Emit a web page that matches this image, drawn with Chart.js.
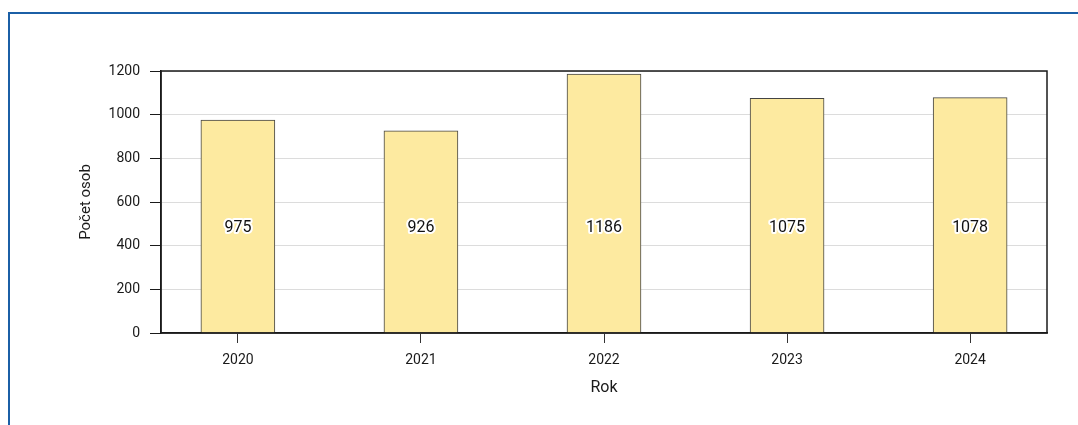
<!DOCTYPE html>
<html>
  <head>
    <meta charset="UTF-8">
    <title>Počet osob</title>
    <script src="https://cdn.jsdelivr.net/npm/chart.js"></script>
    <style>
      html, body { margin: 0; padding: 0; background: #fff; overflow: hidden; }
      .frame {
        position: absolute; left: 8px; top: 12px; width: 1200px; height: 500px;
        border-left: 2px solid #1b5fa6; border-top: 2px solid #1b5fa6;
      }
      .wrap { position: absolute; left: 0; top: 0; width: 1078px; height: 425px; }
    </style>
  </head>
  <body>
    <div class="frame"></div>
    <div class="wrap">
      <canvas id="barChart" width="1078" height="425"></canvas>
    </div>

    <script>
      // data
      const years = [2020, 2021, 2022, 2023, 2024];
      const persons = [975, 926, 1186, 1075, 1078];
      const yTicks = [0, 200, 400, 600, 800, 1000, 1200];

      const fontFamily = "Roboto, 'DejaVu Sans', sans-serif";
      const textColor = '#1a1a1a';

      // frame around the plot area + value labels inside the bars
      const plotExtras = {
        id: 'plotExtras',
        afterDatasetsDraw(chart) {
          const { ctx, chartArea } = chart;
          const yScale = chart.scales.y;
          ctx.save();
          ctx.strokeStyle = '#1a1a1a';
          ctx.lineWidth = 1.5;
          ctx.strokeRect(chartArea.left, chartArea.top, chartArea.right - chartArea.left, chartArea.bottom - chartArea.top);

          ctx.font = '16px ' + fontFamily;
          ctx.textAlign = 'center';
          ctx.textBaseline = 'middle';
          ctx.lineJoin = 'round';
          // labels sit at the same height in every bar
          const labelY = yScale.getPixelForValue(480);
          chart.getDatasetMeta(0).data.forEach((bar, i) => {
            const txt = String(persons[i]);
            ctx.strokeStyle = '#ffffff';
            ctx.lineWidth = 4;
            ctx.strokeText(txt, bar.x, labelY);
            ctx.fillStyle = '#111111';
            ctx.fillText(txt, bar.x, labelY);
          });
          ctx.restore();
        }
      };

      const ctx = document.getElementById('barChart').getContext('2d');

      new Chart(ctx, {
        type: 'bar',
        data: {
          datasets: [
            {
              data: years.map((yr, i) => ({ x: yr, y: persons[i] })),
              backgroundColor: '#fdeaa0',
              borderColor: '#444444',
              borderWidth: 1,
              barThickness: 74
            }
          ]
        },
        options: {
          responsive: false,
          animation: false,
          layout: { padding: { top: 71, right: 31, left: 0, bottom: 0 } },
          plugins: {
            legend: { display: false },
            tooltip: { enabled: false }
          },
          scales: {
            x: {
              type: 'linear',
              offset: false,
              min: 2019.58,
              max: 2024.42,
              afterFit(scale) { scale.height = 92; },
              afterBuildTicks(scale) { scale.ticks = years.map(v => ({ value: v })); },
              ticks: {
                color: textColor,
                font: { family: fontFamily, size: 14 },
                padding: 9,
                callback: v => String(v)
              },
              grid: {
                offset: false,
                drawOnChartArea: false,
                drawTicks: true,
                tickLength: 10,
                tickColor: '#333'
              },
              border: { display: true, color: '#1a1a1a', width: 1.5 },
              title: {
                display: true,
                text: 'Rok',
                color: textColor,
                font: { family: fontFamily, size: 16 },
                padding: { top: 0, bottom: 27 }
              }
            },
            y: {
              min: 0,
              max: 1200,
              afterFit(scale) { scale.width = 161; },
              afterBuildTicks(scale) { scale.ticks = yTicks.map(v => ({ value: v })); },
              ticks: {
                color: textColor,
                font: { family: fontFamily, size: 14 },
                padding: 10,
                callback: v => String(v)
              },
              grid: {
                color: '#dcdcdc',
                lineWidth: 1,
                tickLength: 11,
                tickColor: '#1a1a1a'
              },
              border: { display: true, color: '#1a1a1a', width: 1.5 },
              title: {
                display: true,
                text: 'Počet osob',
                color: textColor,
                font: { family: fontFamily, size: 15 },
                padding: { top: 77, bottom: 0 }
              }
            }
          }
        },
        plugins: [plotExtras]
      });
    </script>
  </body>
</html>
